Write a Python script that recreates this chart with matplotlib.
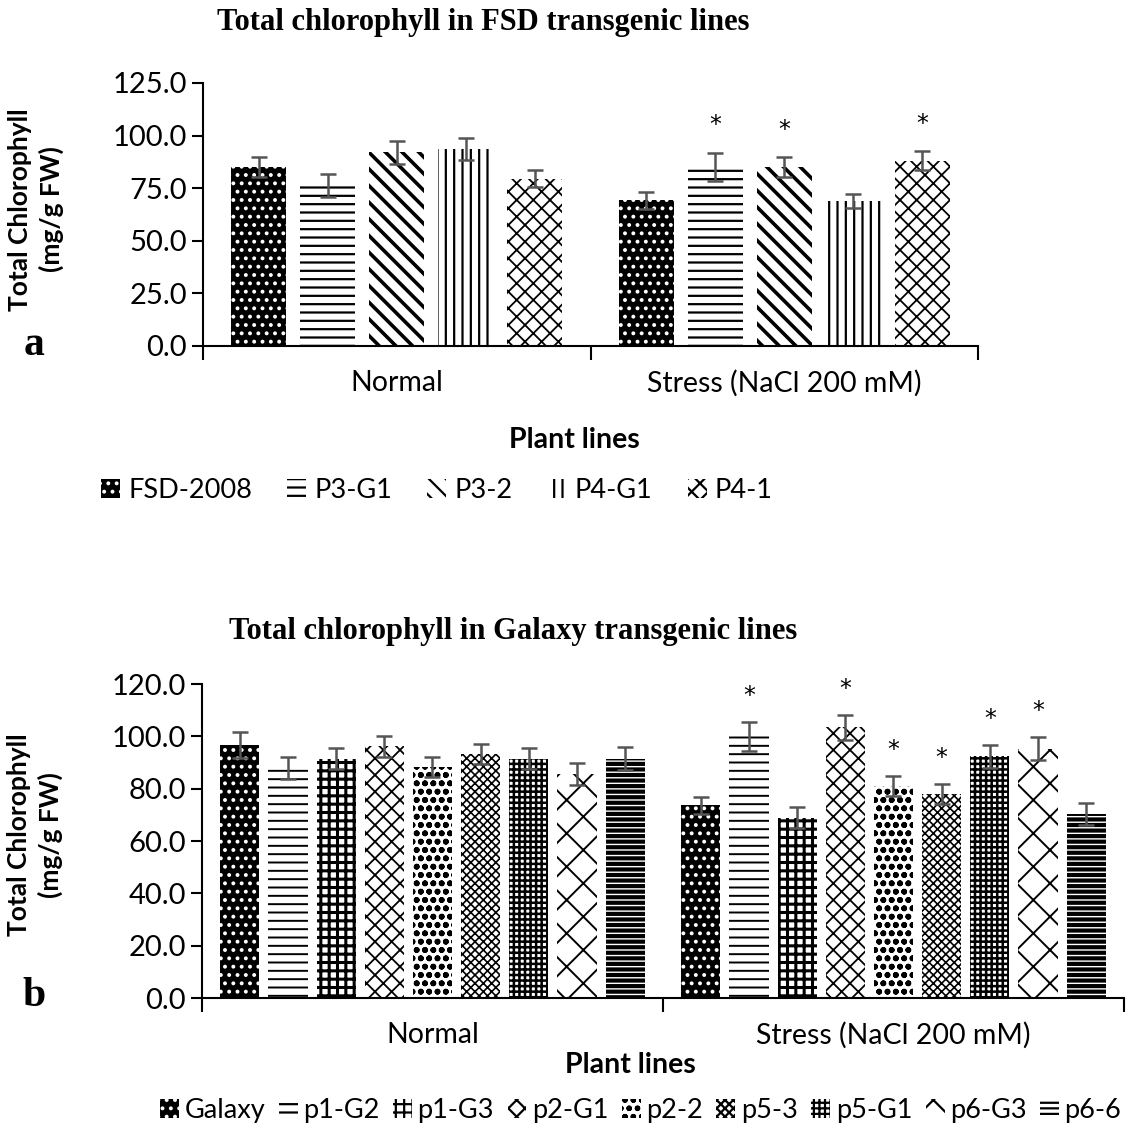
import numpy as np
import matplotlib.pyplot as plt
from matplotlib.patches import Patch

plt.rcParams['font.family'] = ['Lato', 'DejaVu Sans']
plt.rcParams['hatch.linewidth'] = 1.6

groups = ["Normal", "Stress (NaCl 200 mM)"]

# panel a - FSD lines
fsd_lines = ["FSD-2008", "P3-G1", "P3-2", "P4-G1", "P4-1"]
fsd_normal = [84.9, 76.2, 92.0, 93.7, 79.5]
fsd_stress = [69.2, 85.1, 84.9, 69.0, 88.1]
fsd_err_normal = [4.8, 5.6, 5.6, 5.2, 4.0]
fsd_err_stress = [4.1, 6.7, 4.8, 3.4, 4.6]
fsd_star = [False, True, True, False, True]

# panel b - Galaxy lines
gal_lines = ["Galaxy", "p1-G2", "p1-G3", "p2-G1", "p2-2", "p5-3", "p5-G1", "p6-G3", "p6-6"]
gal_normal = [96.6, 87.9, 91.5, 96.2, 88.2, 93.4, 91.5, 85.7, 91.5]
gal_stress = [73.6, 100.0, 68.9, 103.4, 81.0, 78.1, 92.4, 95.3, 70.2]
gal_err_normal = [5.0, 4.2, 4.1, 4.1, 3.9, 3.8, 4.1, 4.1, 4.4]
gal_err_stress = [3.3, 5.4, 4.1, 4.8, 3.8, 3.8, 4.4, 4.3, 4.2]
gal_star = [False, True, False, True, True, True, True, True, False]

# (facecolor, hatchcolor, hatch, hatch linewidth)
fsd_styles = [("black", "white", "..", 1.6), ("white", "black", "--", 1.6),
              ("white", "black", "\\\\", 2.6), ("white", "black", "||", 1.6),
              ("white", "black", "xx", 1.3)]
gal_styles = [("black", "white", "..", 1.6), ("white", "black", "--", 1.4),
              ("white", "black", "++", 2.2), ("white", "black", "xx", 1.3),
              ("white", "black", "oo", 1.8), ("white", "black", "xxxx", 1.2),
              ("white", "black", "+++", 1.8), ("white", "black", "x", 1.4),
              ("white", "black", "---", 3.0)]


def set_hlw(artist, lw):
    if hasattr(artist, 'set_hatch_linewidth'):
        artist.set_hatch_linewidth(lw)


def draw_panel(ax, lines, normal, stress, err_n, err_s, stars, styles,
               ymax, ystep, pitch, width, star_off):
    n = len(lines)
    offs = (np.arange(n) - (n - 1) / 2) * pitch
    for i in range(n):
        fc, hc, h, hlw = styles[i]
        vals = [normal[i], stress[i]]
        errs = [err_n[i], err_s[i]]
        xs = np.arange(2) + offs[i]
        bars = ax.bar(xs, vals, width, color=fc, edgecolor=hc, hatch=h, linewidth=0, zorder=2)
        for b in bars:
            set_hlw(b, hlw)
        ax.errorbar(xs, vals, yerr=errs, fmt='none', ecolor='#555555',
                    elinewidth=1.8, capsize=6, capthick=1.8, zorder=3)
        if stars[i]:
            ax.text(xs[1], stress[i] + err_s[i] + star_off, "*", ha='center',
                    va='center', fontsize=17, family='DejaVu Sans')
    ax.set_xlim(-0.5, 1.5)
    ax.set_ylim(0, ymax)
    ax.set_yticks(np.arange(0, ymax + 0.1, ystep))
    ax.set_yticklabels([f"{v:.1f}" for v in np.arange(0, ymax + 0.1, ystep)])
    ax.set_xticks([-0.5, 0.5, 1.5])
    ax.set_xticklabels([])
    ax.set_xticks([0, 1], minor=True)
    ax.set_xticklabels(groups, minor=True)
    ax.tick_params(axis='x', which='major', direction='out', length=10, width=1.5)
    ax.tick_params(axis='x', which='minor', length=0, pad=17, labelsize=20.5)
    ax.tick_params(axis='y', direction='out', length=8, width=1.5, labelsize=21)
    for s in ['top', 'right']:
        ax.spines[s].set_visible(False)
    for s in ['left', 'bottom']:
        ax.spines[s].set_linewidth(1.5)
    ax.set_ylabel("Total Chlorophyll\n(mg/g FW)", fontsize=19, fontweight='bold',
                  linespacing=1.3)


fig = plt.figure(figsize=(11.26, 11.46), dpi=100)

ax1 = fig.add_axes([0.1803, 0.6981, 0.6883, 0.2295])
draw_panel(ax1, fsd_lines, fsd_normal, fsd_stress, fsd_err_normal, fsd_err_stress,
           fsd_star, fsd_styles, 125, 25, 0.178, 0.142, 13)
ax1.yaxis.set_label_coords(-0.18, 0.52)

ax2 = fig.add_axes([0.1794, 0.1291, 0.8188, 0.2740])
draw_panel(ax2, gal_lines, gal_normal, gal_stress, gal_err_normal, gal_err_stress,
           gal_star, gal_styles, 120, 20, 0.1045, 0.085, 10)
ax2.yaxis.set_label_coords(-0.151, 0.52)

# titles
fig.text(0.429, 0.980, "Total chlorophyll in FSD transgenic lines", ha='center', va='center',
         family='Liberation Serif', fontweight='bold', fontsize=22)
fig.text(0.456, 0.449, "Total chlorophyll in Galaxy transgenic lines", ha='center', va='center',
         family='Liberation Serif', fontweight='bold', fontsize=22)

# panel letters
fig.text(0.03, 0.699, "a", ha='center', va='center', family='Liberation Serif',
         fontweight='bold', fontsize=30)
fig.text(0.03, 0.131, "b", ha='center', va='center', family='Liberation Serif',
         fontweight='bold', fontsize=30)

# x axis titles
fig.text(0.51, 0.616, "Plant lines", ha='center', va='center', fontsize=20.5, fontweight='bold')
fig.text(0.56, 0.071, "Plant lines", ha='center', va='center', fontsize=20.5, fontweight='bold')

# legends
h1 = [Patch(facecolor=s[0], edgecolor=s[1], hatch=s[2], linewidth=0) for s in fsd_styles]
fig.legend(h1, fsd_lines, loc='center', bbox_to_anchor=(0.388, 0.572), ncol=5,
           frameon=False, fontsize=19.5, handlelength=0.7, handleheight=0.7,
           columnspacing=1.3, handletextpad=0.3)
h2 = [Patch(facecolor=s[0], edgecolor=s[1], hatch=s[2], linewidth=0) for s in gal_styles]
fig.legend(h2, gal_lines, loc='center', bbox_to_anchor=(0.569, 0.031), ncol=9,
           frameon=False, fontsize=19.5, handlelength=0.7, handleheight=0.7,
           columnspacing=0.5, handletextpad=0.2)

fig.savefig("out.png", dpi=100)
